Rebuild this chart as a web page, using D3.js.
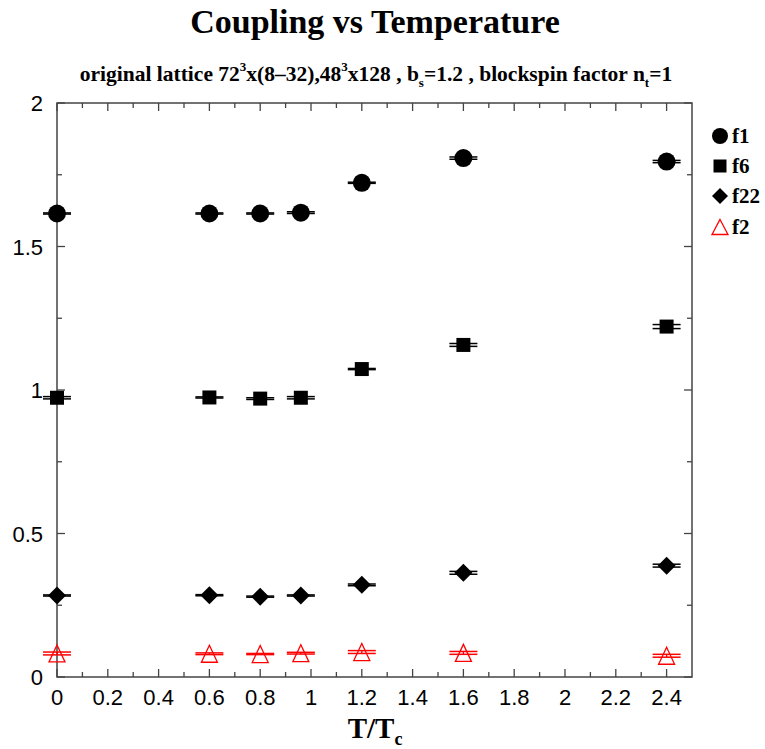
<!DOCTYPE html>
<html>
<head>
<meta charset="utf-8">
<script src="https://cdn.jsdelivr.net/npm/d3@7"></script>
<style>
  body { margin: 0; background: #fff; }
  svg { display: block; }
</style>
</head>
<body>
<svg></svg>
<script>
var width = 765;
var height = 749;

// data
var temps = [0, 0.6, 0.8, 0.96, 1.2, 1.6, 2.4];
var f1 = [1.615, 1.615, 1.615, 1.618, 1.722, 1.808, 1.796];
var f1err = [0.002, 0.002, 0.002, 0.003, 0.002, 0.004, 0.004];
var f6 = [0.973, 0.974, 0.970, 0.973, 1.073, 1.157, 1.221];
var f6err = [0.004, 0.002, 0.003, 0.004, 0.002, 0.005, 0.007];
var f22 = [0.284, 0.285, 0.280, 0.284, 0.321, 0.363, 0.388];
var f22err = [0.002, 0.002, 0.002, 0.002, 0.003, 0.005, 0.005];
var f2 = [0.082, 0.081, 0.080, 0.083, 0.087, 0.084, 0.074];
var f2err = [0.005, 0.003, 0.002, 0.003, 0.005, 0.005, 0.005];
var xTicks = [0, 0.2, 0.4, 0.6, 0.8, 1, 1.2, 1.4, 1.6, 1.8, 2, 2.2, 2.4];
var yTicks = [0, 0.5, 1, 1.5, 2];

var svg = d3.select('svg')
    .attr("width", width)
    .attr("height", height);

var x = d3.scaleLinear().domain([0, 2.5]).range([57, 692]);
var y = d3.scaleLinear().domain([0, 2]).range([677, 103]);

var axisColor = '#444';

// titles
svg.append('text')
    .attr("x", 375).attr("y", 33)
    .attr("text-anchor", 'middle')
    .style("font", 'bold 34px "Liberation Serif", serif')
    .text('Coupling vs Temperature');

var sub = svg.append('text')
    .attr("x", 376).attr("y", 81)
    .attr("text-anchor", 'middle')
    .style("font", 'bold 21.5px "Liberation Serif", serif');
sub.append('tspan').text('original lattice 72');
sub.append('tspan').attr("dy", -10).style("font-size", '13px').text('3');
sub.append('tspan').attr("dy", 10).text('x(8\u201332),48');
sub.append('tspan').attr("dy", -10).style("font-size", '13px').text('3');
sub.append('tspan').attr("dy", 10).text('x128 , b');
sub.append('tspan').attr("dy", 6).style("font-size", '13px').text('s');
sub.append('tspan').attr("dy", -6).text('=1.2 , blockspin factor n');
sub.append('tspan').attr("dy", 6).style("font-size", '13px').text('t');
sub.append('tspan').attr("dy", -6).text('=1');

// frame
var g = svg.append('g');
g.append('rect')
    .attr("x", x(0)).attr("y", y(2))
    .attr("width", x(2.5) - x(0)).attr("height", y(0) - y(2))
    .attr("fill", 'none')
    .attr("stroke", axisColor)
    .attr("stroke-width", 1.5);

// ticks, all pointing inward
var xMinor = d3.range(1, 25, 2).map(function(d) { return d / 10; });
var yMinor = [0.25, 0.75, 1.25, 1.75];

function xTickLines(vals, len) {
    vals.forEach(function(v) {
        g.append('line').attr("x1", x(v)).attr("x2", x(v))
            .attr("y1", y(0)).attr("y2", y(0) - len)
            .attr("stroke", axisColor).attr("stroke-width", 1.3);
        g.append('line').attr("x1", x(v)).attr("x2", x(v))
            .attr("y1", y(2)).attr("y2", y(2) + len)
            .attr("stroke", axisColor).attr("stroke-width", 1.3);
    });
}
function yTickLines(vals, len) {
    vals.forEach(function(v) {
        g.append('line').attr("x1", x(0)).attr("x2", x(0) + len)
            .attr("y1", y(v)).attr("y2", y(v))
            .attr("stroke", axisColor).attr("stroke-width", 1.3);
        g.append('line').attr("x1", x(2.5)).attr("x2", x(2.5) - len)
            .attr("y1", y(v)).attr("y2", y(v))
            .attr("stroke", axisColor).attr("stroke-width", 1.3);
    });
}
xTickLines(xTicks, 8);
xTickLines(xMinor, 5);
yTickLines(yTicks, 8);
yTickLines(yMinor, 5);

// tick labels
g.selectAll('.xlab').data(xTicks).enter().append('text')
    .attr("class", 'xlab')
    .attr("x", function(d) { return x(d); })
    .attr("y", 705)
    .attr("text-anchor", 'middle')
    .style("font", '22px "Liberation Sans", Arial, sans-serif')
    .text(function(d) { return d; });

g.selectAll('.ylab').data(yTicks).enter().append('text')
    .attr("class", 'ylab')
    .attr("x", 43)
    .attr("y", function(d) { return y(d) + 8; })
    .attr("text-anchor", 'end')
    .style("font", '22px "Liberation Sans", Arial, sans-serif')
    .text(function(d) { return d; });

// x axis title
var xt = svg.append('text')
    .attr("x", 375).attr("y", 738)
    .attr("text-anchor", 'middle')
    .style("font", 'bold 29px "Liberation Serif", serif');
xt.append('tspan').text('T/T');
xt.append('tspan').attr("dy", 7).style("font-size", '18px').text('c');

// marker shapes
var symCircle = d3.symbol().type(d3.symbolCircle).size(Math.PI * 81);
var symSquare = d3.symbol().type(d3.symbolSquare).size(14 * 14);

function triPath(w, h) {
    return 'M0,' + (-h / 2) + 'L' + (w / 2) + ',' + (h / 2) + 'L' + (-w / 2) + ',' + (h / 2) + 'Z';
}
function diaPath(w, h) {
    return 'M0,' + (-h / 2) + 'L' + (w / 2) + ',0L0,' + (h / 2) + 'L' + (-w / 2) + ',0Z';
}

var series = [
    {vals: f1, errs: f1err, color: 'black', path: symCircle(), fill: 'black'},
    {vals: f6, errs: f6err, color: 'black', path: symSquare(), fill: 'black'},
    {vals: f22, errs: f22err, color: 'black', path: diaPath(18, 18), fill: 'black'},
    {vals: f2, errs: f2err, color: 'red', path: triPath(16, 17), fill: 'none'}
];

series.forEach(function(s) {
    var sg = svg.append('g');
    temps.forEach(function(t, i) {
        var cx = x(t), v = s.vals[i], e = s.errs[i];
        sg.append('line')
            .attr("x1", cx).attr("x2", cx)
            .attr("y1", y(v - e)).attr("y2", y(v + e))
            .attr("stroke", s.color).attr("stroke-width", 1.3);
        [v - e, v + e].forEach(function(yv) {
            sg.append('line')
                .attr("x1", cx - 14).attr("x2", cx + 14)
                .attr("y1", y(yv)).attr("y2", y(yv))
                .attr("stroke", s.color).attr("stroke-width", 1.5);
        });
        sg.append('path')
            .attr("d", s.path)
            .attr("transform", 'translate(' + cx + ',' + y(v) + ')')
            .attr("fill", s.fill)
            .attr("stroke", s.color)
            .attr("stroke-width", s.fill === 'none' ? 1.3 : 0);
    });
});

// legend
var legNames = ['f1', 'f6', 'f22', 'f2'];
var legY = [136, 166, 196, 227];
var legPaths = [
    d3.symbol().type(d3.symbolCircle).size(Math.PI * 64)(),
    d3.symbol().type(d3.symbolSquare).size(13 * 13)(),
    diaPath(16, 16),
    triPath(16, 15)
];
legNames.forEach(function(n, i) {
    var red = i === 3;
    svg.append('path')
        .attr("d", legPaths[i])
        .attr("transform", 'translate(720,' + legY[i] + ')')
        .attr("fill", red ? 'none' : 'black')
        .attr("stroke", red ? 'red' : 'none')
        .attr("stroke-width", 1.3);
    svg.append('text')
        .attr("x", 732).attr("y", legY[i] + 7)
        .style("font", 'bold 21px "Liberation Serif", serif')
        .text(n);
});
</script>
</body>
</html>
